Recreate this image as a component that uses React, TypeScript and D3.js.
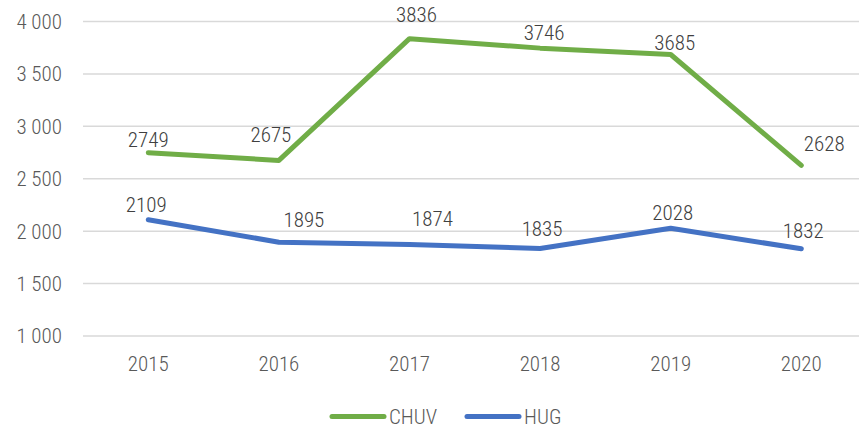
import * as d3 from 'd3'
import React from 'react'

// values
const years = ['2015', '2016', '2017', '2018', '2019', '2020']
const chuv = [2749, 2675, 3836, 3746, 3685, 2628]
const hug = [2109, 1895, 1874, 1835, 2028, 1832]
const yTicks = [1000, 1500, 2000, 2500, 3000, 3500, 4000]

// data label nudges (px), like the hand-placed labels in the original
const chuvLabelShift = [[0, -6], [-8, -18], [7, -17], [4, -8], [4, -5], [23, -14]]
const hugLabelShift = [[-2, -8], [25, -15], [23, -18], [2, -12], [2, -8], [2, -11]]

const seriesList = [
    { name: 'CHUV', values: chuv, color: '#70AD47', shift: chuvLabelShift },
    { name: 'HUG', values: hug, color: '#4472C4', shift: hugLabelShift },
]

const W = 859
const H = 431
const FONT = '"Roboto Condensed", "Arial Narrow", sans-serif'
const FS = 21

export default function App() {
    const x = d3.scaleBand().domain(years).range([83, 866.6])
    const y = d3.scaleLinear().domain([1000, 4000]).range([336, 21.5])
    const fmt = (v: number) => d3.format(',')(v).replace(',', ' ')
    const cx = (i: number) => (x(years[i]) as number) + x.bandwidth() / 2
    const line = d3.line<number>()
        .x((_, i) => cx(i))
        .y(d => y(d))

    return (
        <svg width={W} height={H} style={{ position: 'absolute', left: 0, top: 0, background: '#fff' }} fontFamily={FONT} fontWeight={300}>
            {/* gridlines */}
            {yTicks.map(t => (
                <line key={t} x1={83} x2={866} y1={y(t)} y2={y(t)} stroke="#d9d9d9" strokeWidth={1.5} />
            ))}
            {/* y tick labels */}
            {yTicks.map(t => (
                <text key={'l' + t} x={62} y={y(t)} dy="0.35em" textAnchor="end" fontSize={FS} fill="#595959">{fmt(t)}</text>
            ))}
            {/* x labels */}
            {years.map((yr, i) => (
                <text key={yr} x={cx(i)} y={371} textAnchor="middle" fontSize={FS} fill="#595959">{yr}</text>
            ))}
            {/* lines */}
            {seriesList.map(s => (
                <path key={s.name} d={line(s.values) || ''} fill="none" stroke={s.color} strokeWidth={5} strokeLinecap="round" strokeLinejoin="round" />
            ))}
            {/* data labels */}
            {seriesList.map(s => s.values.map((v, i) => (
                <text key={s.name + i} x={cx(i) + s.shift[i][0]} y={y(v) + s.shift[i][1]} textAnchor="middle" fontSize={FS} fill="#404040">{v}</text>
            )))}
            {/* legend */}
            <g>
                <line x1={332} x2={384} y1={416.5} y2={416.5} stroke="#70AD47" strokeWidth={5} strokeLinecap="round" />
                <text x={389} y={416.5} dy="0.35em" fontSize={FS} fill="#595959">CHUV</text>
                <line x1={467} x2={519} y1={416.5} y2={416.5} stroke="#4472C4" strokeWidth={5} strokeLinecap="round" />
                <text x={524} y={416.5} dy="0.35em" fontSize={FS} fill="#595959">HUG</text>
            </g>
        </svg>
    )
}
